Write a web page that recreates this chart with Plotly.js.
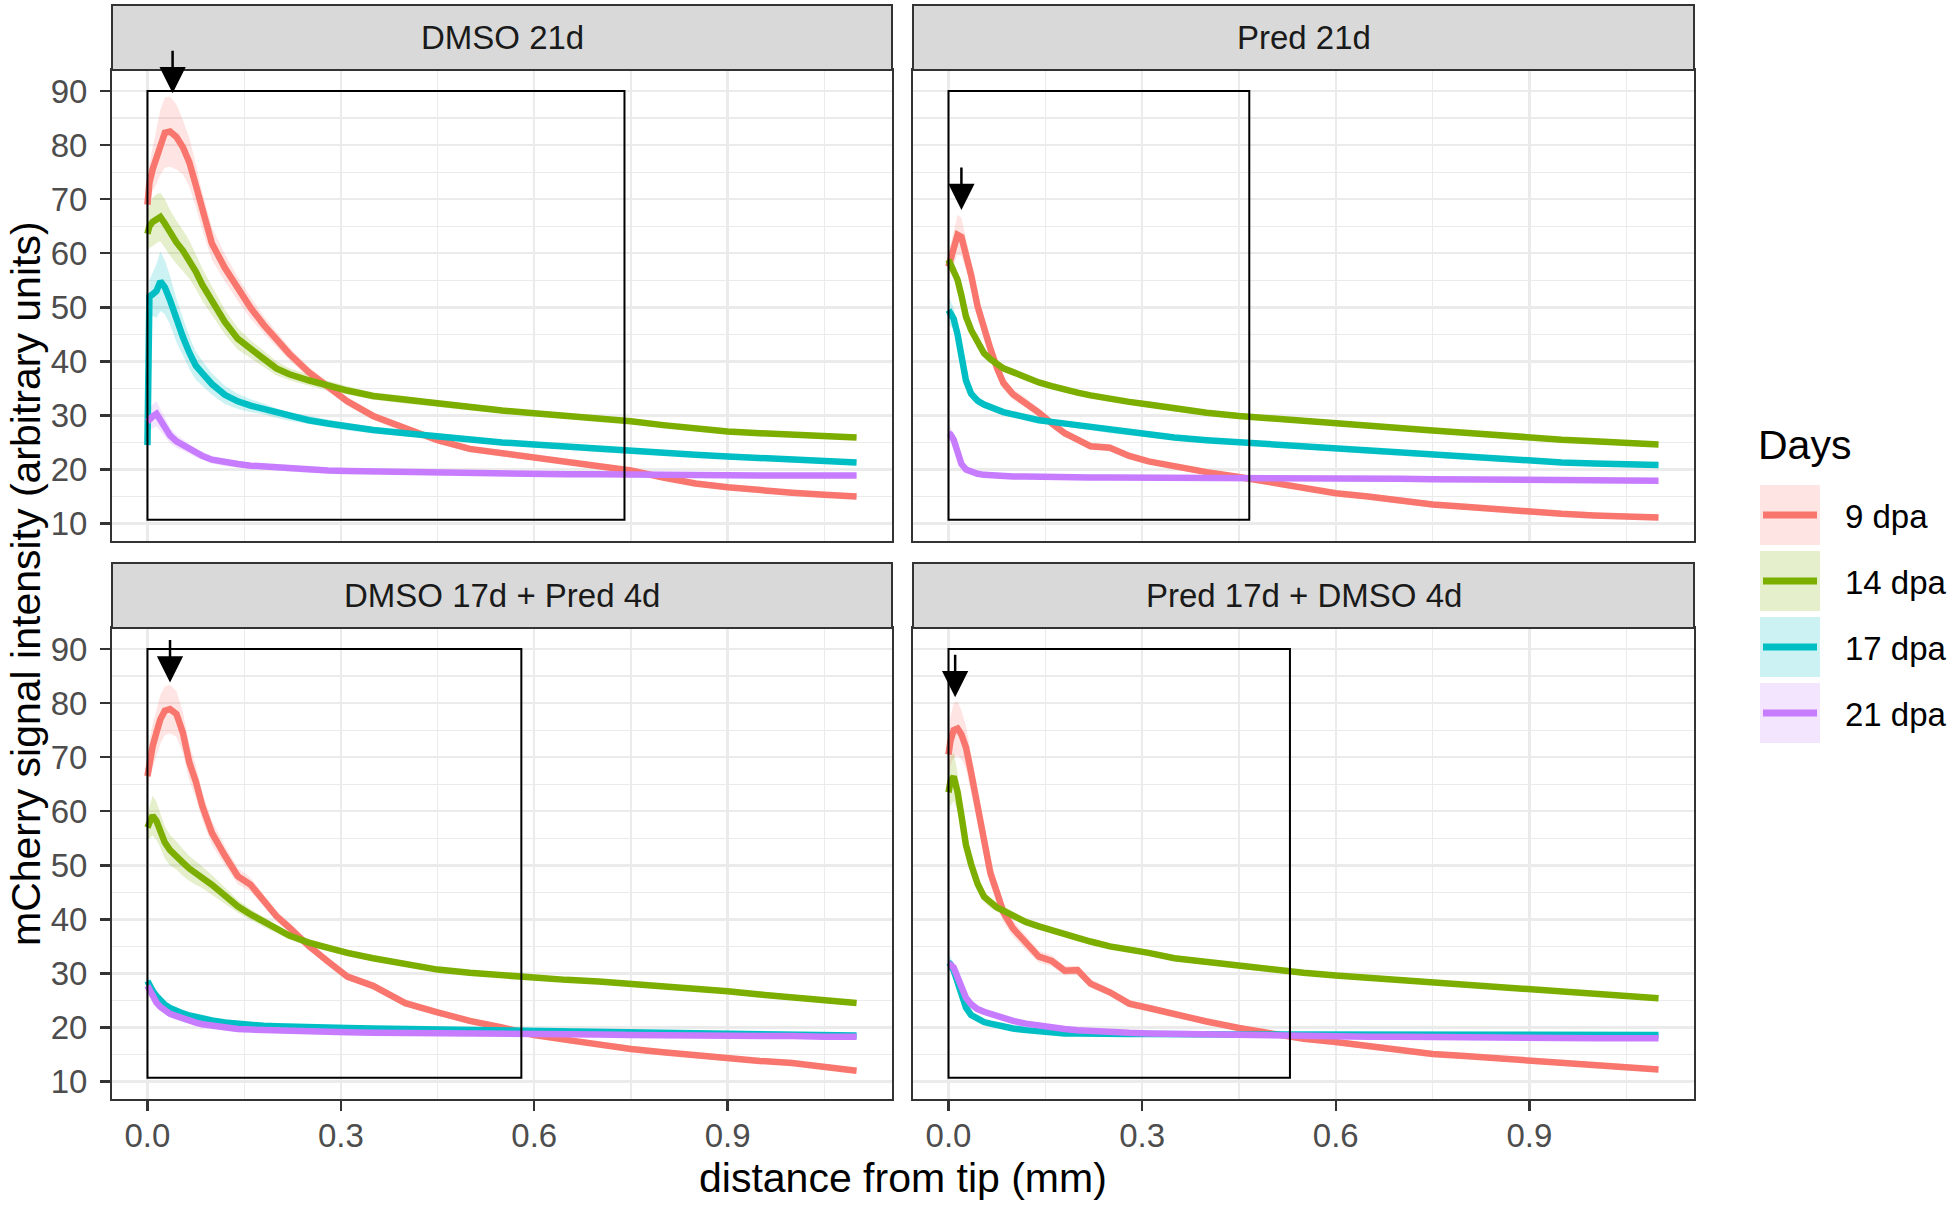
<!DOCTYPE html>
<html>
<head>
<meta charset="utf-8">
<script src="https://cdn.plot.ly/plotly-3.0.1.min.js"></script>
<style>
  html, body { margin: 0; padding: 0; background: #ffffff; }
  #myDiv { width: 1951px; height: 1205px; }
</style>
</head>
<body>
<div id="myDiv"></div>
<script>
// distance from tip (mm), shared by every curve
const distance = [0, 0.003, 0.008, 0.014, 0.02, 0.027, 0.035, 0.045, 0.055, 0.065,
  0.075, 0.085, 0.1, 0.12, 0.14, 0.16, 0.18, 0.2, 0.22, 0.25,
  0.28, 0.31, 0.35, 0.4, 0.45, 0.5, 0.55, 0.6, 0.65, 0.7,
  0.75, 0.8, 0.85, 0.9, 0.95, 1.0, 1.05, 1.1];

const panelNames = ["DMSO 21d", "Pred 21d", "DMSO 17d + Pred 4d", "Pred 17d + DMSO 4d"];
const dayNames = ["9 dpa", "14 dpa", "17 dpa", "21 dpa"];
const dayColors = ["#F8766D", "#7CAE00", "#00BFC4", "#C77CFF"];
const xTickVals = [0, 0.3, 0.6, 0.9];
const xTickText = ["0.0", "0.3", "0.6", "0.9"];
const xMinorVals = [0.15, 0.45, 0.75, 1.05];
const yTickVals = [10, 20, 30, 40, 50, 60, 70, 80, 90];
const yMinorVals = [15, 25, 35, 45, 55, 65, 75, 85];

// DMSO 21d
const dmso21_9 = [69, 73, 75.5, 77.8, 80.5, 82.3, 82.5, 81.5, 79.6, 76.8,
  72.6, 67.8, 61.8, 57.3, 53.4, 49.9, 46.8, 44.1, 41.4, 38.0,
  35.3, 32.6, 29.9, 27.5, 25.4, 23.8, 23.0, 22.3, 21.5, 20.7,
  19.8, 18.5, 17.4, 16.7, 16.1, 15.7, 15.3, 15.0];
const dmso21_9_se = [3, 3.5, 4, 5, 6, 6.5, 6.5, 6, 5, 4.5,
  4, 3.5, 3, 2.5, 2.2, 2, 1.6, 1.4, 1.2, 1.0,
  0.9, 0.8, 0.7, 0.7, 0.6, 0.6, 0.6, 0.5, 0.5, 0.5,
  0.5, 0.5, 0.5, 0.5, 0.5, 0.5, 0.5, 0.5];
const dmso21_14 = [63.6, 65, 65.8, 66.4, 66.7, 65.5, 63.8, 62.0, 60.5, 58.8,
  56.6, 54.2, 51.2, 47.3, 44.2, 42.2, 40.5, 38.7, 37.6, 36.5,
  35.5, 34.6, 33.6, 32.9, 32.1, 31.5, 30.9, 30.4, 30.0, 29.5,
  28.9, 28.2, 27.5, 27.0, 26.7, 26.5, 26.2, 25.9];
const dmso21_14_se = [3.5, 4, 4.5, 4.5, 4.5, 4.5, 4.2, 4, 3.8, 3.5,
  3.2, 3, 2.7, 2.3, 2, 1.7, 1.5, 1.3, 1.1, 1,
  0.9, 0.8, 0.7, 0.7, 0.6, 0.6, 0.5, 0.5, 0.5, 0.5,
  0.5, 0.5, 0.5, 0.5, 0.5, 0.5, 0.5, 0.5];
const dmso21_17 = [24.5, 52, 52.4, 53, 54.8, 53.7, 51.3, 47.6, 44.5, 41.6,
  39.2, 37.8, 35.8, 33.8, 32.6, 31.8, 31.2, 30.4, 29.8, 29.1,
  28.5, 27.9, 27.3, 26.7, 26.1, 25.5, 25.0, 24.6, 24.2, 23.7,
  23.3, 23.0, 22.7, 22.4, 22.1, 21.8, 21.5, 21.3];
const dmso21_17_se = [0.5, 3, 4, 5, 5.5, 5, 4.5, 4, 3.5, 3,
  2.6, 2.3, 2, 1.7, 1.4, 1.2, 1, 0.9, 0.8, 0.8,
  0.7, 0.7, 0.6, 0.6, 0.5, 0.5, 0.5, 0.5, 0.5, 0.5,
  0.5, 0.5, 0.5, 0.5, 0.5, 0.5, 0.5, 0.5];
const dmso21_21 = [28.8, 29.3, 29.8, 30.3, 29.2, 27.8, 26.3, 25.2, 24.5, 23.8,
  23.0, 22.5, 21.8, 21.3, 21.0, 20.7, 20.5, 20.3, 20.1, 19.9,
  19.8, 19.7, 19.6, 19.5, 19.3, 19.3, 19.2, 19.2, 19.1, 19.1,
  19.0, 19.0, 19.0, 18.9, 18.9, 18.9, 18.9, 18.9];
const dmso21_21_se = [1.5, 2, 2.2, 2.3, 2, 1.7, 1.4, 1.2, 1, 0.9,
  0.8, 0.8, 0.7, 0.7, 0.6, 0.6, 0.5, 0.5, 0.5, 0.5,
  0.4, 0.4, 0.4, 0.4, 0.4, 0.4, 0.4, 0.4, 0.4, 0.4,
  0.4, 0.4, 0.4, 0.4, 0.4, 0.4, 0.4, 0.4];

// Pred 21d
const pred21_9 = [57.5, 59, 61, 63.4, 63.0, 60.0, 56.0, 50.2, 45.8, 42.3,
  38.8, 36.0, 33.9, 32.3, 30.5, 28.5, 26.7, 25.5, 24.3, 24.0,
  22.5, 21.5, 20.5, 19.5, 18.6, 17.5, 16.6, 15.6, 15.0, 14.2,
  13.5, 13.1, 12.6, 12.1, 11.8, 11.5, 11.3, 11.1];
const pred21_9_se = [2, 2.5, 3, 3.7, 3.5, 3, 2.5, 2, 1.8, 1.5,
  1.3, 1.2, 1, 0.9, 0.8, 0.8, 0.7, 0.7, 0.6, 0.6,
  0.6, 0.5, 0.5, 0.5, 0.5, 0.5, 0.5, 0.5, 0.5, 0.5,
  0.5, 0.5, 0.5, 0.5, 0.5, 0.5, 0.5, 0.5];
const pred21_14 = [58.8, 58.0, 57.0, 55.1, 52.2, 48.3, 45.8, 43.4, 41.5, 40.4,
  39.5, 38.7, 38.0, 36.9, 36.1, 35.4, 34.7, 34.2, 33.7, 33.0,
  32.5, 32.0, 31.2, 30.5, 29.9, 29.4, 29.0, 28.6, 28.1, 27.6,
  27.2, 26.8, 26.3, 25.8, 25.5, 25.2, 24.9, 24.6];
const pred21_14_se = [1.5, 1.5, 1.4, 1.3, 1.2, 1, 0.9, 0.8, 0.8, 0.7,
  0.7, 0.6, 0.6, 0.6, 0.5, 0.5, 0.5, 0.5, 0.5, 0.5,
  0.5, 0.5, 0.5, 0.5, 0.5, 0.5, 0.5, 0.5, 0.5, 0.5,
  0.5, 0.5, 0.5, 0.5, 0.5, 0.5, 0.5, 0.5];
const pred21_17 = [49.5, 48.8, 47.9, 45.0, 40.5, 36.5, 34.0, 32.7, 32.0, 31.5,
  31.0, 30.6, 30.2, 29.6, 29.1, 28.8, 28.5, 28.1, 27.8, 27.2,
  26.8, 26.4, 25.9, 25.4, 25.0, 24.6, 24.2, 23.8, 23.4, 23.0,
  22.7, 22.3, 22.0, 21.6, 21.3, 21.1, 20.9, 20.8];
const pred21_17_se = [2.5, 2.3, 2, 1.7, 1.4, 1.1, 0.9, 0.8, 0.7, 0.7,
  0.6, 0.6, 0.5, 0.5, 0.5, 0.5, 0.5, 0.5, 0.5, 0.5,
  0.5, 0.5, 0.5, 0.5, 0.5, 0.5, 0.5, 0.5, 0.5, 0.5,
  0.5, 0.5, 0.5, 0.5, 0.5, 0.5, 0.5, 0.5];
const pred21_21 = [26.7, 26.5, 25.5, 23.0, 21.0, 20.0, 19.5, 19.2, 19.0, 18.9,
  18.8, 18.8, 18.7, 18.7, 18.6, 18.6, 18.6, 18.5, 18.5, 18.5,
  18.5, 18.4, 18.4, 18.4, 18.4, 18.3, 18.3, 18.3, 18.3, 18.3,
  18.2, 18.2, 18.1, 18.1, 18.0, 18.0, 17.9, 17.9];
const pred21_21_se = [1.5, 1.3, 1, 0.7, 0.5, 0.4, 0.4, 0.4, 0.4, 0.4,
  0.4, 0.4, 0.4, 0.4, 0.4, 0.4, 0.4, 0.4, 0.4, 0.4,
  0.4, 0.4, 0.4, 0.4, 0.4, 0.4, 0.4, 0.4, 0.4, 0.4,
  0.4, 0.4, 0.4, 0.4, 0.4, 0.4, 0.4, 0.4];

// DMSO 17d + Pred 4d
const dmsoPred_9 = [66.5, 69.5, 72.0, 74.6, 77.0, 78.6, 78.9, 78.0, 74.5, 69.0,
  65.5, 61.0, 56.0, 51.8, 48.0, 46.4, 43.5, 40.6, 38.5, 35.1,
  32.2, 29.4, 27.7, 24.5, 22.8, 21.2, 20.0, 18.6, 17.7, 16.8,
  16.0, 15.4, 14.8, 14.3, 13.8, 13.4, 12.7, 12.0];
const dmsoPred_9_se = [3, 3.5, 4, 4.2, 4.5, 4.5, 4.5, 4.2, 3.8, 3.3,
  3, 2.6, 2.2, 1.8, 1.5, 1.3, 1.1, 1, 0.9, 0.8,
  0.7, 0.7, 0.6, 0.6, 0.5, 0.5, 0.5, 0.5, 0.5, 0.5,
  0.5, 0.5, 0.5, 0.5, 0.5, 0.5, 0.5, 0.5];
const dmsoPred_14 = [57.0, 58.0, 59.2, 58.2, 56.5, 54.2, 52.8, 51.8, 50.5, 49.4,
  48.6, 47.8, 46.4, 44.4, 42.4, 40.9, 39.5, 38.2, 37.0, 35.7,
  34.7, 33.8, 32.8, 31.7, 30.7, 30.1, 29.6, 29.2, 28.8, 28.5,
  28.1, 27.6, 27.1, 26.7, 26.1, 25.6, 25.0, 24.5];
const dmsoPred_14_se = [2.5, 3, 3.7, 3.5, 3.2, 3, 2.8, 2.6, 2.5, 2.3,
  2.2, 2, 1.8, 1.5, 1.2, 1, 0.9, 0.8, 0.7, 0.7,
  0.6, 0.6, 0.5, 0.5, 0.5, 0.5, 0.5, 0.5, 0.5, 0.5,
  0.5, 0.5, 0.5, 0.5, 0.5, 0.5, 0.5, 0.5];
const dmsoPred_17 = [28.6, 27.8, 26.8, 25.8, 25.0, 24.2, 23.6, 23.0, 22.6, 22.2,
  21.9, 21.7, 21.3, 20.9, 20.6, 20.4, 20.3, 20.2, 20.2, 20.1,
  20.0, 19.9, 19.8, 19.7, 19.6, 19.5, 19.4, 19.2, 19.1, 19.0,
  18.9, 18.8, 18.7, 18.6, 18.6, 18.5, 18.5, 18.5];
const dmsoPred_17_se = [1, 0.9, 0.8, 0.7, 0.6, 0.5, 0.5, 0.5, 0.4, 0.4,
  0.4, 0.4, 0.4, 0.4, 0.4, 0.4, 0.4, 0.4, 0.4, 0.4,
  0.4, 0.4, 0.4, 0.4, 0.4, 0.4, 0.4, 0.4, 0.4, 0.4,
  0.4, 0.4, 0.4, 0.4, 0.4, 0.4, 0.4, 0.4];
const dmsoPred_21 = [27.7, 26.9, 25.8, 24.6, 23.8, 23.1, 22.5, 22.1, 21.6, 21.2,
  20.9, 20.6, 20.3, 20.0, 19.7, 19.6, 19.5, 19.4, 19.3, 19.2,
  19.1, 19.1, 19.0, 19.0, 18.9, 18.9, 18.8, 18.8, 18.7, 18.7,
  18.6, 18.6, 18.5, 18.5, 18.4, 18.4, 18.3, 18.3];
const dmsoPred_21_se = [1, 0.9, 0.8, 0.7, 0.6, 0.5, 0.5, 0.5, 0.4, 0.4,
  0.4, 0.4, 0.4, 0.4, 0.4, 0.4, 0.4, 0.4, 0.4, 0.4,
  0.4, 0.4, 0.4, 0.4, 0.4, 0.4, 0.4, 0.4, 0.4, 0.4,
  0.4, 0.4, 0.4, 0.4, 0.4, 0.4, 0.4, 0.4];

// Pred 17d + DMSO 4d
const predDmso_9 = [70.5, 73.0, 75.0, 75.3, 74.2, 71.8, 67.2, 61.0, 55.0, 48.5,
  45.0, 41.3, 38.3, 35.6, 33.1, 32.3, 30.5, 30.6, 28.1, 26.5,
  24.4, 23.6, 22.4, 21.1, 19.9, 18.9, 17.9, 17.3, 16.5, 15.8,
  15.1, 14.7, 14.3, 13.9, 13.5, 13.2, 12.7, 12.2];
const predDmso_9_se = [3.5, 4.5, 5, 5, 4.5, 4, 3.5, 3, 2.5, 2.2,
  2, 1.8, 1.5, 1.3, 1.1, 1, 0.9, 0.8, 0.8, 0.7,
  0.7, 0.6, 0.6, 0.5, 0.5, 0.5, 0.5, 0.5, 0.5, 0.5,
  0.5, 0.5, 0.5, 0.5, 0.5, 0.5, 0.5, 0.5];
const predDmso_14 = [63.5, 65.5, 66.4, 63.6, 59.2, 53.8, 50.2, 46.6, 44.2, 43.0,
  42.2, 41.6, 40.7, 39.5, 38.7, 38.0, 37.2, 36.4, 35.9, 35.0,
  34.5, 33.8, 32.8, 32.1, 31.3, 30.7, 30.1, 29.6, 29.2, 28.8,
  28.3, 27.9, 27.4, 27.0, 26.6, 26.2, 25.8, 25.4];
const predDmso_14_se = [4, 4.5, 4.5, 3.5, 2.5, 2, 1.5, 1.2, 1, 0.9,
  0.8, 0.8, 0.7, 0.7, 0.6, 0.6, 0.5, 0.5, 0.5, 0.5,
  0.5, 0.5, 0.5, 0.5, 0.5, 0.5, 0.5, 0.5, 0.5, 0.5,
  0.5, 0.5, 0.5, 0.5, 0.5, 0.5, 0.5, 0.5];
const predDmso_17 = [32.0, 31.7, 30.6, 28.6, 26.2, 23.7, 22.3, 21.5, 21.0, 20.7,
  20.4, 20.1, 19.8, 19.5, 19.2, 19.0, 18.9, 18.9, 18.8, 18.8,
  18.8, 18.8, 18.7, 18.7, 18.7, 18.7, 18.7, 18.7, 18.7, 18.7,
  18.7, 18.6, 18.6, 18.6, 18.6, 18.6, 18.6, 18.6];
const predDmso_17_se = [1.5, 1.3, 1, 0.8, 0.6, 0.5, 0.5, 0.4, 0.4, 0.4,
  0.4, 0.4, 0.4, 0.4, 0.4, 0.4, 0.4, 0.4, 0.4, 0.4,
  0.4, 0.4, 0.4, 0.4, 0.4, 0.4, 0.4, 0.4, 0.4, 0.4,
  0.4, 0.4, 0.4, 0.4, 0.4, 0.4, 0.4, 0.4];
const predDmso_21 = [31.7, 31.6, 31.1, 29.5, 27.7, 25.5, 24.3, 23.4, 22.9, 22.5,
  22.0, 21.7, 21.2, 20.7, 20.3, 20.0, 19.7, 19.5, 19.3, 19.1,
  19.0, 18.9, 18.8, 18.7, 18.6, 18.5, 18.4, 18.4, 18.3, 18.3,
  18.2, 18.2, 18.1, 18.1, 18.1, 18.0, 18.0, 18.0];
const predDmso_21_se = [1, 0.9, 0.8, 0.7, 0.6, 0.5, 0.5, 0.4, 0.4, 0.4,
  0.4, 0.4, 0.4, 0.4, 0.4, 0.4, 0.4, 0.4, 0.4, 0.4,
  0.4, 0.4, 0.4, 0.4, 0.4, 0.4, 0.4, 0.4, 0.4, 0.4,
  0.4, 0.4, 0.4, 0.4, 0.4, 0.4, 0.4, 0.4];

// boxed region and arrow tip in each panel
const boxRight = [0.74, 0.466, 0.58, 0.529];
const boxLow = 10.7;
const boxHigh = 90;
const arrowX = [0.039, 0.02, 0.035, 0.0103];
const arrowY = [89.6, 68.0, 83.8, 81.1];

const panelSeries = [
  [[dmso21_9, dmso21_9_se], [dmso21_14, dmso21_14_se], [dmso21_17, dmso21_17_se], [dmso21_21, dmso21_21_se]],
  [[pred21_9, pred21_9_se], [pred21_14, pred21_14_se], [pred21_17, pred21_17_se], [pred21_21, pred21_21_se]],
  [[dmsoPred_9, dmsoPred_9_se], [dmsoPred_14, dmsoPred_14_se], [dmsoPred_17, dmsoPred_17_se], [dmsoPred_21, dmsoPred_21_se]],
  [[predDmso_9, predDmso_9_se], [predDmso_14, predDmso_14_se], [predDmso_17, predDmso_17_se], [predDmso_21, predDmso_21_se]],
];

const W = 1951;
const H = 1205;
const FONT = "Liberation Sans, Arial, sans-serif";
const SMALL = 33;
const BIG = 41;

// panel boxes in pixels: [left, right, top, bottom]
const panelPx = [
  [112, 892, 70, 541],
  [913, 1694, 70, 541],
  [112, 892, 628, 1099],
  [913, 1694, 628, 1099],
];
const stripH = 65;

function hexToRgba(hex, a) {
  var r = parseInt(hex.slice(1, 3), 16);
  var g = parseInt(hex.slice(3, 5), 16);
  var b = parseInt(hex.slice(5, 7), 16);
  return "rgba(" + r + "," + g + "," + b + "," + a + ")";
}

function px2x(p) { return p / W; }
function px2y(p) { return 1 - p / H; }

var data = [];
var shapes = [];
var annotations = [];
var layout = {
  width: W,
  height: H,
  margin: { l: 0, r: 0, t: 0, b: 0 },
  paper_bgcolor: "#ffffff",
  plot_bgcolor: "#ffffff",
  showlegend: false,
  font: { family: FONT, color: "#000000" },
};

panelNames.forEach(function (name, p) {
  var k = p + 1;
  var xa = "x" + (k === 1 ? "" : k);
  var ya = "y" + (k === 1 ? "" : k);
  var box = panelPx[p];
  var bottomRow = p >= 2;
  var leftCol = p % 2 === 0;

  // ribbons first, then lines, as ggplot layers them
  panelSeries[p].forEach(function (s, i) {
    var ys = s[0], se = s[1];
    var upper = ys.map(function (v, j) { return v + se[j]; });
    var lower = ys.map(function (v, j) { return v - se[j]; });
    data.push({
      x: distance.concat(distance.slice().reverse()),
      y: upper.concat(lower.slice().reverse()),
      xaxis: xa, yaxis: ya,
      type: "scatter", mode: "lines",
      fill: "toself",
      fillcolor: hexToRgba(dayColors[i], 0.2),
      line: { width: 0 },
      hoverinfo: "skip",
    });
  });
  panelSeries[p].forEach(function (s, i) {
    data.push({
      x: distance, y: s[0],
      xaxis: xa, yaxis: ya,
      type: "scatter", mode: "lines",
      name: dayNames[i],
      line: { color: dayColors[i], width: 6.5 },
    });
  });

  layout["xaxis" + (k === 1 ? "" : k)] = {
    domain: [px2x(box[0]), px2x(box[1])],
    anchor: ya,
    range: [-0.055, 1.155],
    tickvals: xTickVals,
    ticktext: xTickText,
    showticklabels: bottomRow,
    ticks: bottomRow ? "outside" : "",
    ticklen: 10, tickwidth: 2.5, tickcolor: "#333333",
    ticklabelstandoff: -4,
    tickfont: { family: FONT, size: SMALL, color: "#4D4D4D" },
    showgrid: true, gridcolor: "#EBEBEB", gridwidth: 2.5,
    minor: { tickvals: xMinorVals, showgrid: true, gridcolor: "#EBEBEB", gridwidth: 1.3 },
    zeroline: false,
    showline: true, mirror: true, linecolor: "#333333", linewidth: 2,
    fixedrange: true,
  };
  layout["yaxis" + (k === 1 ? "" : k)] = {
    domain: [px2y(box[3]), px2y(box[2])],
    anchor: xa,
    range: [6.76, 93.9],
    tickvals: yTickVals,
    showticklabels: leftCol,
    ticks: leftCol ? "outside" : "",
    ticklen: 10, tickwidth: 2.5, tickcolor: "#333333",
    ticklabelstandoff: 6,
    tickfont: { family: FONT, size: SMALL, color: "#4D4D4D" },
    showgrid: true, gridcolor: "#EBEBEB", gridwidth: 2.5,
    minor: { tickvals: yMinorVals, showgrid: true, gridcolor: "#EBEBEB", gridwidth: 1.3 },
    zeroline: false,
    showline: true, mirror: true, linecolor: "#333333", linewidth: 2,
    fixedrange: true,
  };

  // facet strip
  shapes.push({
    type: "rect", xref: "paper", yref: "paper",
    x0: px2x(box[0]), x1: px2x(box[1]),
    y0: px2y(box[2]), y1: px2y(box[2] - stripH),
    fillcolor: "#D9D9D9",
    line: { color: "#333333", width: 2 },
  });
  annotations.push({
    xref: "paper", yref: "paper",
    x: px2x((box[0] + box[1]) / 2), y: px2y(box[2] - stripH / 2),
    xanchor: "center", yanchor: "middle",
    text: name, showarrow: false,
    font: { family: FONT, size: SMALL, color: "#1A1A1A" },
  });

  // boxed region
  shapes.push({
    type: "rect", xref: xa, yref: ya,
    x0: 0, x1: boxRight[p], y0: boxLow, y1: boxHigh,
    line: { color: "#000000", width: 2 },
  });

  // arrow at the peak
  annotations.push({
    xref: xa, yref: ya,
    x: arrowX[p], y: arrowY[p],
    ax: 0, ay: -44,
    text: "", showarrow: true,
    arrowhead: 2, arrowsize: 2.1, arrowwidth: 2.5, arrowcolor: "#000000",
  });
});

// axis titles
annotations.push({
  xref: "paper", yref: "paper",
  x: px2x(903), y: px2y(1178),
  xanchor: "center", yanchor: "middle",
  text: "distance from tip (mm)", showarrow: false,
  font: { family: FONT, size: BIG, color: "#000000" },
});
annotations.push({
  xref: "paper", yref: "paper",
  x: px2x(26), y: px2y(584),
  xanchor: "center", yanchor: "middle",
  text: "mCherry signal intensity (arbitrary units)", showarrow: false,
  textangle: -90,
  font: { family: FONT, size: BIG, color: "#000000" },
});

// legend
annotations.push({
  xref: "paper", yref: "paper",
  x: px2x(1756), y: px2y(445),
  xanchor: "left", yanchor: "middle",
  text: "Days", showarrow: false,
  font: { family: FONT, size: BIG, color: "#000000" },
});
dayNames.forEach(function (label, i) {
  var top = 485 + i * 66;
  shapes.push({
    type: "rect", xref: "paper", yref: "paper",
    x0: px2x(1760), x1: px2x(1820), y0: px2y(top + 60), y1: px2y(top),
    fillcolor: hexToRgba(dayColors[i], 0.2),
    line: { width: 0 },
  });
  shapes.push({
    type: "line", xref: "paper", yref: "paper",
    x0: px2x(1763), x1: px2x(1817), y0: px2y(top + 30), y1: px2y(top + 30),
    line: { color: dayColors[i], width: 7 },
  });
  annotations.push({
    xref: "paper", yref: "paper",
    x: px2x(1843), y: px2y(top + 31),
    xanchor: "left", yanchor: "middle",
    text: label, showarrow: false,
    font: { family: FONT, size: SMALL, color: "#000000" },
  });
});

layout.shapes = shapes;
layout.annotations = annotations;

Plotly.newPlot("myDiv", data, layout, { staticPlot: true });
</script>
</body>
</html>
